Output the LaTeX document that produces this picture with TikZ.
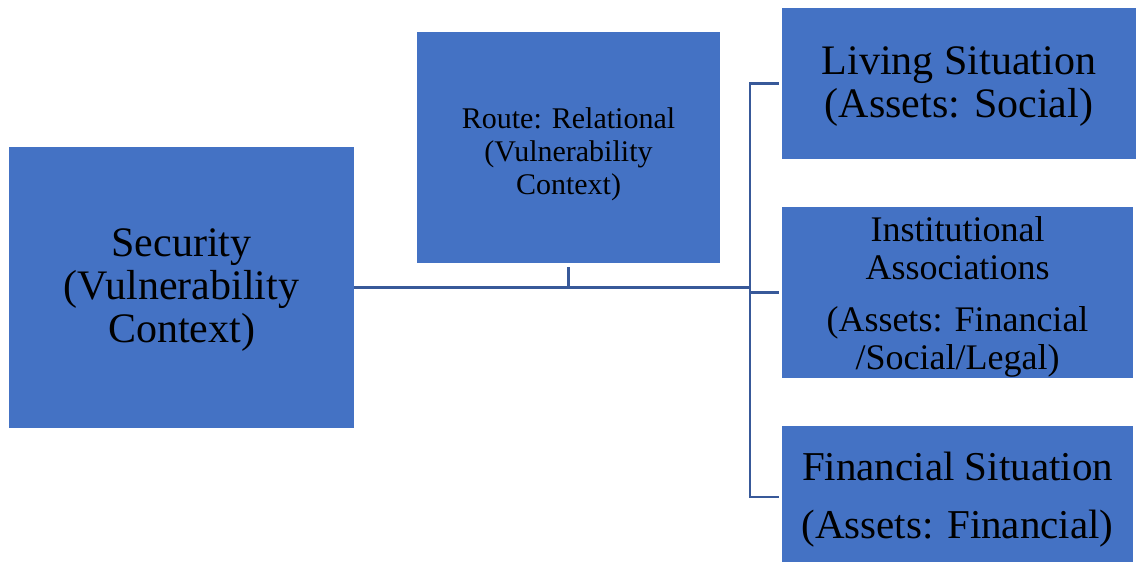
\documentclass[tikz,border=0pt]{standalone}
\usepackage{fontspec}
\setmainfont{Liberation Serif}
\definecolor{boxblue}{HTML}{4472C4}
\definecolor{lineblue}{RGB}{56,89,153}
\tikzset{
  bluebox/.style={rectangle, fill=boxblue, draw=none, inner sep=0pt},
  boxtext/.style={inner sep=0pt, align=center, text=black},
  conn/.style={draw=lineblue, line width=2.8pt}
}
\begin{document}
\begin{tikzpicture}[x=1pt,y=-1pt]
\path[use as bounding box, clip] (0,0) rectangle (1136,562);
\fill[white] (0,0) rectangle (1136,562);
\node[bluebox, minimum width=345pt, minimum height=281pt] (sec) at (181.5,287.5) {};
\node[bluebox, minimum width=303pt, minimum height=231pt] (route) at (568.5,147.5) {};
\node[bluebox, minimum width=354pt, minimum height=151pt] (living) at (959,83.5) {};
\node[bluebox, minimum width=351pt, minimum height=171pt] (inst) at (957.5,292.5) {};
\node[bluebox, minimum width=351pt, minimum height=142pt] (fin) at (957.5,497) {};
\node[boxtext, font=\fontsize{42}{43}\selectfont, yshift=-3pt] (sectext) at (sec.center) {Security\\(Vulnerability\\Context)};
\node[boxtext, font=\fontsize{30}{33}\selectfont, yshift=-7pt] (routetext) at (route.center) {Route: Relational\\(Vulnerability\\Context)};
\node[boxtext, font=\fontsize{42}{43}\selectfont, yshift=-3pt] (livingtext) at (living.center) {Living Situation\\(Assets: Social)};
\node[boxtext, font=\fontsize{36}{38}\selectfont, yshift=-4pt] (insttext) at (inst.center) {Institutional\\Associations\\[14pt](Assets: Financial\\/Social/Legal)};
\node[boxtext, font=\fontsize{41}{58}\selectfont, yshift=-3pt] (fintext) at (fin.center) {Financial Situation\\(Assets: Financial)};
\coordinate (bx) at (750,0);
\draw[conn] (sec.east) -- (sec.east -| bx);
\draw[conn] ([yshift=-4pt]route.south) -- (route.south |- sec.east);
\draw[conn] ([xshift=-3pt]living.west) -- (living.west -| bx) -- (fin.west -| bx) -- ([xshift=-3pt]fin.west);
\draw[conn] (inst.west -| bx) -- ([xshift=-3pt]inst.west);
\end{tikzpicture}
\end{document}
